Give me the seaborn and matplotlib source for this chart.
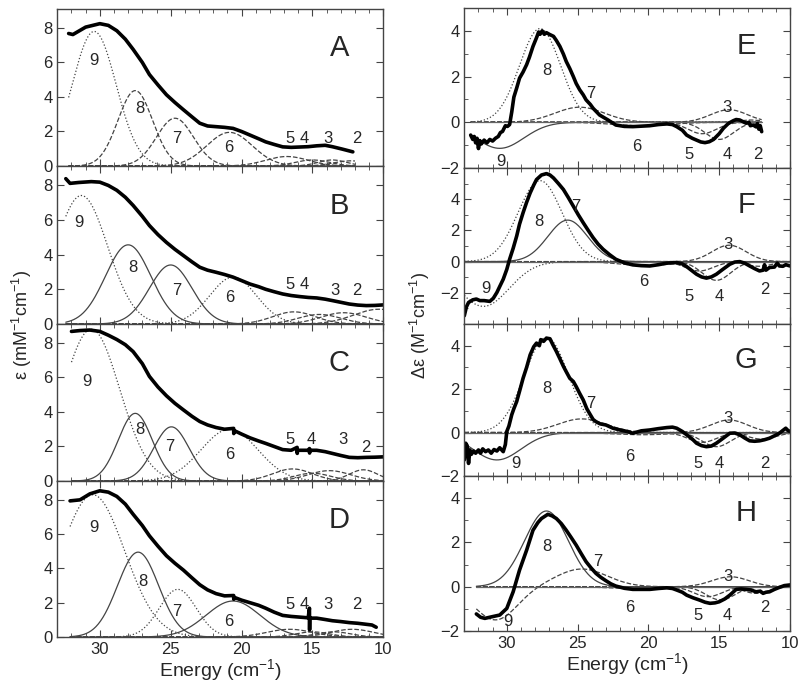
import numpy as np
import pandas as pd
import matplotlib
matplotlib.use('Agg')
import matplotlib.pyplot as plt
import seaborn as sns
from matplotlib.ticker import MultipleLocator, FixedLocator

# ---------------- data ----------------
band_names = ['9', '8', '7', '6', '5', '4', '3', '2']

# absorption (left column), thick experimental traces
A_energy = [32.2, 31.9, 31.0, 30.0, 29.4, 28.8, 28.2, 27.65, 27.0, 26.5, 25.9, 25.3, 24.7, 24.1, 23.5,
            22.95, 22.4, 21.8, 21.2, 20.6, 20.0, 19.4, 18.8, 18.3, 17.7, 17.1, 16.5, 15.9, 15.3, 14.7,
            14.1, 13.6, 12.9, 12.15]
A_eps = [7.68, 7.62, 8.05, 8.25, 8.15, 7.84, 7.35, 6.76, 6.0, 5.3, 4.7, 4.13, 3.68, 3.26, 2.85,
         2.48, 2.32, 2.28, 2.24, 2.18, 2.0, 1.79, 1.58, 1.4, 1.25, 1.11, 1.08, 1.1, 1.12, 1.17,
         1.2, 1.12, 0.98, 0.82]

B_energy = [32.4, 32.1, 31.5, 30.6, 30.0, 29.4, 28.8, 28.2, 27.65, 27.0, 26.5, 25.9, 25.3, 24.7, 24.1,
            23.5, 22.95, 22.4, 21.8, 21.2, 20.6, 20.0, 19.4, 18.8, 18.3, 17.7, 17.1, 16.5, 15.9, 15.3,
            14.7, 14.1, 13.6, 13.0, 12.4, 11.8, 11.2, 10.6, 10.0]
B_eps = [8.37, 8.1, 8.15, 8.2, 8.17, 7.98, 7.7, 7.3, 6.83, 6.2, 5.67, 5.15, 4.7, 4.3, 3.94,
         3.58, 3.27, 3.1, 2.98, 2.85, 2.7, 2.5, 2.3, 2.15, 2.0, 1.86, 1.73, 1.64, 1.58, 1.53,
         1.5, 1.43, 1.35, 1.25, 1.15, 1.09, 1.06, 1.07, 1.1]

C_energy = [32.0, 31.4, 30.7, 30.0, 29.4, 28.8, 28.2, 27.65, 27.0, 26.5, 25.9, 25.3, 24.7, 24.1, 23.5,
            22.95, 22.4, 21.8, 21.2, 20.56, 20.55, 20.54, 20.0, 19.4, 18.8, 18.3, 17.7, 17.1, 16.5,
            16.08, 16.07, 16.06, 15.3, 15.21, 15.2, 15.19, 14.7, 14.1, 13.6, 13.0, 12.4, 11.8, 11.2,
            10.6, 10.0]
C_eps = [8.67, 8.72, 8.75, 8.67, 8.45, 8.2, 7.9, 7.5, 6.8, 6.06, 5.45, 4.94, 4.5, 4.12, 3.75,
         3.45, 3.25, 3.1, 3.0, 3.05, 2.75, 2.93, 2.72, 2.5, 2.32, 2.18, 2.0, 1.82, 1.78,
         1.95, 1.6, 1.78, 1.78, 1.88, 1.62, 1.78, 1.78, 1.7, 1.6, 1.48, 1.37, 1.35, 1.37,
         1.38, 1.4]

D_energy = [32.1, 31.4, 30.7, 30.0, 29.4, 28.8, 28.2, 27.65, 27.0, 26.5, 25.9, 25.3, 24.7, 24.1, 23.5,
            22.95, 22.4, 21.8, 21.2, 20.56, 20.55, 20.54, 20.0, 19.4, 18.8, 18.3, 17.7, 17.1, 16.5,
            15.9, 15.3, 15.21, 15.2, 15.19, 14.7, 14.1, 13.6, 13.0, 12.4, 11.8, 11.2, 10.8, 10.5]
D_eps = [7.94, 8.0, 8.35, 8.53, 8.45, 8.2, 7.75, 7.16, 6.5, 5.9, 5.3, 4.74, 4.3, 3.9, 3.45,
         3.05, 2.75, 2.53, 2.4, 2.42, 2.2, 2.32, 2.15, 2.0, 1.85, 1.68, 1.45, 1.26, 1.2,
         1.16, 1.12, 1.68, 0.42, 1.1, 1.1, 1.02, 0.95, 0.9, 0.84, 0.8, 0.74, 0.7, 0.57]

# circular dichroism (right column), thick experimental traces
E_energy = [32.55, 32.4, 32.3, 32.2, 32.1, 32.0, 31.9, 31.8, 31.6, 31.4, 31.2, 31.0, 30.8, 30.6, 30.45,
            30.3, 30.1, 29.95, 29.8, 29.65, 29.5, 29.3, 29.1, 28.85, 28.6, 28.4, 28.15, 27.9, 27.75,
            27.65, 27.5, 27.35, 27.2, 27.0, 26.7, 26.5, 26.25, 26.0, 25.8, 25.55, 25.3, 25.1, 24.85,
            24.6, 24.4, 24.1, 23.9, 23.45, 22.85, 22.3, 21.7, 21.1, 20.5, 19.9, 19.3, 18.7, 18.3,
            18.0, 17.6, 17.3, 16.9, 16.6, 16.3, 16.0, 15.7, 15.4, 15.0, 14.7, 14.35, 14.0, 13.8,
            13.55, 13.3, 13.1, 12.9, 12.8, 12.6, 12.4, 12.3, 12.2, 12.1, 12.0]
E_deps = [-0.56, -0.75, -0.62, -0.9, -0.7, -1.15, -0.8, -0.95, -0.78, -0.9, -0.75, -0.82, -0.7, -0.62, -0.45,
          -0.4, -0.15, -0.18, -0.1, 0.45, 1.1, 1.5, 1.93, 2.2, 2.52, 2.85, 3.32, 3.7, 3.95,
          3.85, 4.0, 3.85, 3.92, 3.85, 3.76, 3.58, 3.32, 2.98, 2.66, 2.35, 2.0, 1.7, 1.42,
          1.2, 0.98, 0.78, 0.61, 0.32, 0.1, -0.12, -0.18, -0.19, -0.17, -0.15, -0.1, -0.07, -0.1,
          -0.19, -0.35, -0.56, -0.7, -0.78, -0.86, -0.89, -0.85, -0.75, -0.5, -0.26, -0.05, 0.07, 0.12,
          0.1, 0.02, -0.04, 0.0, -0.15, -0.12, -0.2, -0.05, -0.3, -0.15, -0.41]

F_energy = [33.0, 32.85, 32.7, 32.4, 32.15, 31.9, 31.6, 31.2, 30.95, 30.7, 30.5, 30.25, 30.0, 29.8, 29.55,
            29.3, 29.1, 28.85, 28.6, 28.35, 28.1, 27.9, 27.55, 27.2, 26.95, 26.7, 26.35, 26.0, 25.65,
            25.3, 24.95, 24.6, 24.25, 23.9, 23.55, 23.2, 22.75, 22.3, 21.7, 21.1, 20.5, 19.9, 19.3,
            18.7, 18.0, 17.6, 17.3, 16.9, 16.6, 16.25, 15.9, 15.55, 15.2, 14.75, 14.25, 13.9, 13.55,
            13.2, 12.85, 12.5, 12.15, 11.9, 11.8, 11.7, 11.45, 11.1, 10.9, 10.75, 10.5, 10.3, 10.0]
F_deps = [-3.47, -2.9, -2.62, -2.45, -2.4, -2.5, -2.5, -2.55, -2.35, -1.98, -1.6, -1.13, -0.5, 0.15, 0.85,
          1.64, 2.4, 3.13, 3.8, 4.4, 4.9, 5.26, 5.55, 5.64, 5.55, 5.36, 5.0, 4.62, 4.1,
          3.55, 3.0, 2.49, 2.0, 1.53, 1.12, 0.79, 0.45, 0.15, -0.08, -0.21, -0.26, -0.28, -0.2,
          -0.1, -0.06, -0.15, -0.32, -0.6, -0.81, -0.98, -1.06, -0.98, -0.81, -0.5, -0.17, -0.03, 0.0,
          -0.1, -0.28, -0.45, -0.6, -0.55, -0.2, -0.55, -0.38, -0.35, -0.1, -0.28, -0.3, -0.2, -0.28]

G_energy = [33.0, 32.9, 32.8, 32.7, 32.6, 32.5, 32.35, 32.2, 32.0, 31.85, 31.7, 31.5, 31.3, 31.1, 30.9,
            30.7, 30.5, 30.25, 30.1, 30.0, 29.85, 29.65, 29.5, 29.3, 29.1, 28.85, 28.6, 28.35, 28.1,
            27.9, 27.7, 27.6, 27.4, 27.2, 26.95, 26.75, 26.5, 26.25, 26.0, 25.8, 25.55, 25.3, 25.1,
            24.85, 24.6, 24.35, 24.1, 23.9, 23.7, 23.4, 23.0, 22.5, 22.0, 21.5, 21.1, 20.5, 19.9,
            19.3, 18.7, 18.3, 18.0, 17.6, 17.3, 16.9, 16.6, 16.25, 15.9, 15.55, 15.2, 14.7, 14.25,
            13.9, 13.55, 13.2, 12.85, 12.5, 12.15, 11.8, 11.45, 11.1, 10.75, 10.5, 10.3, 10.15, 10.0]
G_deps = [-1.26, -0.49, -0.6, -1.42, -0.8, -1.0, -0.85, -0.95, -0.8, -0.95, -0.75, -0.88, -0.8, -0.95, -0.78,
          -0.85, -0.7, -0.88, -0.55, 0.05, 0.3, 0.82, 1.1, 1.43, 1.9, 2.5, 3.0, 3.58, 3.95,
          4.12, 4.0, 4.28, 4.2, 4.35, 4.32, 4.05, 3.74, 3.4, 3.05, 2.8, 2.5, 2.35, 2.12,
          1.8, 1.5, 1.1, 0.82, 0.6, 0.5, 0.4, 0.35, 0.2, 0.12, 0.05, -0.03, 0.08, 0.12,
          0.18, 0.23, 0.25, 0.2, 0.05, -0.1, -0.3, -0.49, -0.6, -0.65, -0.62, -0.49, -0.25, -0.03,
          -0.02, -0.1, -0.25, -0.38, -0.4, -0.38, -0.33, -0.26, -0.15, -0.03, 0.1, 0.2, 0.1, 0.05]

H_energy = [32.15, 31.85, 31.55, 31.0, 30.5, 30.0, 29.55, 29.1, 28.6, 28.15, 27.8, 27.55, 27.1, 26.8, 26.5,
            26.15, 25.8, 25.45, 25.1, 24.75, 24.4, 24.05, 23.7, 23.35, 23.0, 22.65, 22.3, 21.7, 21.1,
            20.5, 19.9, 19.3, 18.7, 18.3, 18.0, 17.6, 17.3, 16.85, 16.4, 16.0, 15.65, 15.3, 15.0,
            14.6, 14.25, 13.8, 13.45, 13.1, 12.75, 12.4, 12.1, 11.9, 11.7, 11.45, 11.1, 10.75, 10.4, 10.0]
H_deps = [-1.23, -1.38, -1.43, -1.35, -1.28, -0.98, -0.23, 0.75, 1.65, 2.55, 2.9, 3.08, 3.27, 3.2, 3.08,
          2.85, 2.55, 2.22, 1.88, 1.5, 1.13, 0.85, 0.6, 0.42, 0.27, 0.13, 0.03, -0.07, -0.12,
          -0.12, -0.12, -0.08, -0.05, -0.08, -0.15, -0.25, -0.38, -0.5, -0.6, -0.7, -0.75, -0.73, -0.68,
          -0.55, -0.38, -0.12, -0.1, -0.12, -0.15, -0.23, -0.2, -0.3, -0.25, -0.23, -0.12, -0.03, 0.05, 0.08]

# gaussian components (bands 9,8,7,6,5,4,3,2): center (10^3 cm-1), height, width
A_center = [30.4, 27.5, 24.7, 20.85, 16.8, 15.0, 13.6, 12.3]
A_height = [7.8, 4.37, 2.77, 1.95, 0.55, 0.35, 0.35, 0.3]
A_width = [1.55, 1.22, 1.3, 1.6, 1.5, 1.2, 1.0, 1.2]

B_center = [31.3, 28.0, 25.0, 20.6, 16.3, 14.5, 12.8, 10.3]
B_height = [7.4, 4.56, 3.4, 2.7, 0.7, 0.55, 0.65, 0.85]
B_width = [1.85, 1.6, 1.5, 1.65, 1.5, 1.5, 1.6, 1.8]

C_center = [30.6, 27.5, 24.95, 20.85, 16.4, 15.0, 13.8, 11.4]
C_height = [8.8, 3.92, 3.14, 3.0, 0.7, 0.45, 0.6, 0.65]
C_width = [2.0, 1.2, 1.25, 2.0, 1.4, 1.3, 1.5, 1.0]

D_center = [30.5, 27.3, 24.5, 20.6, 16.6, 15.0, 13.5, 12.2]
D_height = [8.3, 4.95, 2.78, 2.1, 0.45, 0.3, 0.3, 0.45]
D_width = [2.25, 1.45, 1.3, 1.9, 1.6, 1.2, 1.2, 1.5]

E_center = [30.5, 27.65, 24.85, 20.5, 16.2, 15.0, 14.3, 12.8]
E_height = [-1.14, 4.1, 0.66, -0.15, -0.5, -0.75, 0.55, 0.1]
E_width = [1.7, 1.45, 1.75, 2.0, 1.0, 1.0, 1.3, 0.8]

F_center = [31.65, 27.65, 25.7, 20.2, 16.4, 15.2, 14.3, 12.2]
F_height = [-2.87, 5.19, 2.66, -0.25, -0.6, -1.2, 1.05, -0.3]
F_width = [1.8, 1.55, 1.4, 1.8, 1.0, 1.0, 1.2, 0.9]

G_center = [30.7, 27.2, 24.7, 20.5, 16.2, 15.2, 14.3, 12.0]
G_height = [-1.26, 4.38, 0.63, -0.1, -0.45, -0.65, 0.58, -0.3]
G_width = [1.7, 1.55, 1.7, 2.0, 1.0, 1.0, 1.3, 1.0]

H_center = [30.8, 27.2, 24.7, 20.5, 15.8, 14.9, 14.2, 12.4]
H_height = [-1.5, 3.42, 0.8, -0.1, -0.45, -0.6, 0.45, -0.3]
H_width = [1.5, 1.55, 1.8, 2.0, 1.0, 1.0, 1.3, 0.9]

# band number label positions (energy, value)
A_lab_x = [30.4, 27.2, 24.6, 20.9, 16.6, 15.55, 13.9, 11.85]
A_lab_y = [6.1, 3.35, 1.6, 1.1, 1.6, 1.6, 1.6, 1.6]
B_lab_x = [31.45, 27.7, 24.6, 20.85, 16.6, 15.55, 13.4, 11.85]
B_lab_y = [5.87, 3.27, 1.92, 1.54, 2.3, 2.3, 1.92, 1.92]
C_lab_x = [30.9, 27.2, 25.1, 20.85, 16.6, 15.05, 12.85, 11.25]
C_lab_y = [5.75, 2.96, 2.0, 1.53, 2.43, 2.43, 2.43, 1.92]
D_lab_x = [30.4, 26.95, 24.6, 20.9, 16.6, 15.55, 13.9, 11.85]
D_lab_y = [6.36, 3.26, 1.47, 0.88, 1.9, 1.9, 1.9, 1.9]
E_lab_x = [30.4, 27.2, 24.1, 20.85, 17.1, 14.43, 14.43, 12.3]
E_lab_y = [-1.73, 2.27, 1.24, -1.07, -1.39, -1.39, 0.66, -1.39]
F_lab_x = [31.45, 27.75, 25.1, 20.3, 17.1, 15.0, 14.4, 11.8]
F_lab_y = [-1.72, 2.6, 3.51, -1.3, -2.26, -2.26, 1.1, -1.77]
G_lab_x = [29.35, 27.2, 24.1, 21.35, 16.5, 15.0, 14.4, 11.8]
G_lab_y = [-1.42, 2.05, 1.35, -1.1, -1.42, -1.42, 0.66, -1.42]
H_lab_x = [29.9, 27.2, 23.55, 21.35, 16.5, 14.4, 14.4, 11.8]
H_lab_y = [-1.58, 1.8, 1.13, -0.93, -1.28, -1.28, 0.45, -0.93]

panel_letters = ['A', 'B', 'C', 'D', 'E', 'F', 'G', 'H']

# ---------------- style ----------------
sns.set_style('ticks')
plt.rcParams['font.family'] = ['Liberation Sans', 'DejaVu Sans']
plt.rcParams['mathtext.fontset'] = 'custom'
plt.rcParams['mathtext.rm'] = 'Liberation Sans'
plt.rcParams['mathtext.it'] = 'Liberation Sans:italic'

# line style for each band per panel (9,8,7,6,5,4,3,2)
styles = {
    'A': [':', '--', '--', '--', '--', '--', '--', '--'],
    'B': [':', '-', '-', ':', '--', '--', '--', '--'],
    'C': [':', '-', '-', ':', '--', '--', '--', '--'],
    'D': [':', '-', ':', '-', '--', '--', '--', '--'],
    'E': ['-', ':', '--', '--', '--', '--', '--', '--'],
    'F': [':', ':', '-', '--', '--', '--', '--', '--'],
    'G': ['-', ':', '--', '--', '--', '--', '--', '--'],
    'H': ['--', '-', '--', '--', '--', '--', '--', '--'],
}

panels = {
    'A': dict(x=A_energy, y=A_eps, c=A_center, h=A_height, w=A_width, lx=A_lab_x, ly=A_lab_y, rng=(32.2, 12.0)),
    'B': dict(x=B_energy, y=B_eps, c=B_center, h=B_height, w=B_width, lx=B_lab_x, ly=B_lab_y, rng=(32.4, 10.0)),
    'C': dict(x=C_energy, y=C_eps, c=C_center, h=C_height, w=C_width, lx=C_lab_x, ly=C_lab_y, rng=(32.0, 10.0)),
    'D': dict(x=D_energy, y=D_eps, c=D_center, h=D_height, w=D_width, lx=D_lab_x, ly=D_lab_y, rng=(32.1, 10.0)),
    'E': dict(x=E_energy, y=E_deps, c=E_center, h=E_height, w=E_width, lx=E_lab_x, ly=E_lab_y, rng=(32.55, 12.0)),
    'F': dict(x=F_energy, y=F_deps, c=F_center, h=F_height, w=F_width, lx=F_lab_x, ly=F_lab_y, rng=(33.0, 10.0)),
    'G': dict(x=G_energy, y=G_deps, c=G_center, h=G_height, w=G_width, lx=G_lab_x, ly=G_lab_y, rng=(33.0, 10.0)),
    'H': dict(x=H_energy, y=H_deps, c=H_center, h=H_height, w=H_width, lx=H_lab_x, ly=H_lab_y, rng=(32.15, 10.0)),
}

# axes boxes in pixels (top, bottom) of an 800x686 canvas
W, Hpx = 800, 686
left_rows = {'A': (9, 166), 'B': (166, 324), 'C': (324, 481), 'D': (481, 637)}
right_rows = {'E': (8, 168), 'F': (168, 324), 'G': (324, 476), 'H': (476, 631)}
ylims = {'A': (0, 9.1), 'B': (0, 9.1), 'C': (0, 9.1), 'D': (0, 9.1),
         'E': (-2, 5), 'F': (-4, 6), 'G': (-2, 5), 'H': (-2, 5)}

fig = plt.figure(figsize=(8, 6.86), dpi=100)

def gauss_curve(grid, c, h, w):
    return h * np.exp(-(grid - c) ** 2 / (2 * w ** 2))

axes = {}
for key in panel_letters:
    if key in left_rows:
        x0, x1 = 57.3, 383.3
        top, bot = left_rows[key]
    else:
        x0, x1 = 464.3, 790.0
        top, bot = right_rows[key]
    ax = fig.add_axes([x0 / W, 1 - bot / Hpx, (x1 - x0) / W, (bot - top) / Hpx])
    axes[key] = ax
    p = panels[key]
    grid = np.linspace(p['rng'][0], p['rng'][1], 400)
    thin = '#444444'

    comps = [gauss_curve(grid, c, h, w) for c, h, w in zip(p['c'], p['h'], p['w'])]
    if key == 'H':
        # bands 9 and 7 are drawn as one dashed trace in H
        comps_draw = [(comps[0] + comps[2], '--')] + [(comps[i], styles[key][i]) for i in [1, 3, 4, 5, 6, 7]]
    else:
        comps_draw = [(comps[i], styles[key][i]) for i in range(8)]
    for yy, ls in comps_draw:
        sns.lineplot(x=grid, y=yy, ax=ax, color=thin, linewidth=0.9, linestyle=ls,
                     sort=False, estimator=None)

    if key in right_rows:
        sns.lineplot(x=grid, y=np.zeros_like(grid), ax=ax, color='#666666', linewidth=0.9,
                     sort=False, estimator=None)

    sns.lineplot(x=p['x'], y=p['y'], ax=ax, color='black', linewidth=2.6,
                 sort=False, estimator=None)

    for name, lx, ly in zip(band_names, p['lx'], p['ly']):
        ax.text(lx, ly, name, ha='center', va='center', fontsize=12)

    ax.text(0.865, 0.75 if key in left_rows else 0.76, key, transform=ax.transAxes,
            ha='center', va='center', fontsize=21)

    ax.set_xlim(33, 10)
    ax.set_ylim(*ylims[key])
    ax.xaxis.set_major_locator(MultipleLocator(5))
    ax.xaxis.set_minor_locator(MultipleLocator(1))
    if key in left_rows:
        ax.yaxis.set_major_locator(FixedLocator([0, 2, 4, 6, 8]))
    else:
        ax.yaxis.set_major_locator(FixedLocator([-2, 0, 2, 4]))
        ax.yaxis.set_minor_locator(MultipleLocator(1))
    ax.tick_params(which='both', direction='in', top=True, right=True, labelsize=12, color='#444444')
    ax.tick_params(which='major', length=5)
    ax.tick_params(which='minor', length=3)
    if key not in ('D', 'H'):
        ax.tick_params(axis='x', labelbottom=False)
    ax.set_xlabel('')
    ax.set_ylabel('')
    for sp in ax.spines.values():
        sp.set_color('#444444')
        sp.set_linewidth(1.0)

axes['D'].set_xlabel('Energy (cm$^{-1}$)', fontsize=14, labelpad=0)
axes['H'].set_xlabel('Energy (cm$^{-1}$)', fontsize=14, labelpad=0)
fig.text(22 / W, 1 - 325 / Hpx, 'ε (mM$^{-1}$cm$^{-1}$)', rotation=90, ha='center', va='center', fontsize=13)
fig.text(420 / W, 1 - 325 / Hpx, 'Δε (M$^{-1}$cm$^{-1}$)', rotation=90, ha='center', va='center', fontsize=13)

fig.savefig('out.png', dpi=100)
